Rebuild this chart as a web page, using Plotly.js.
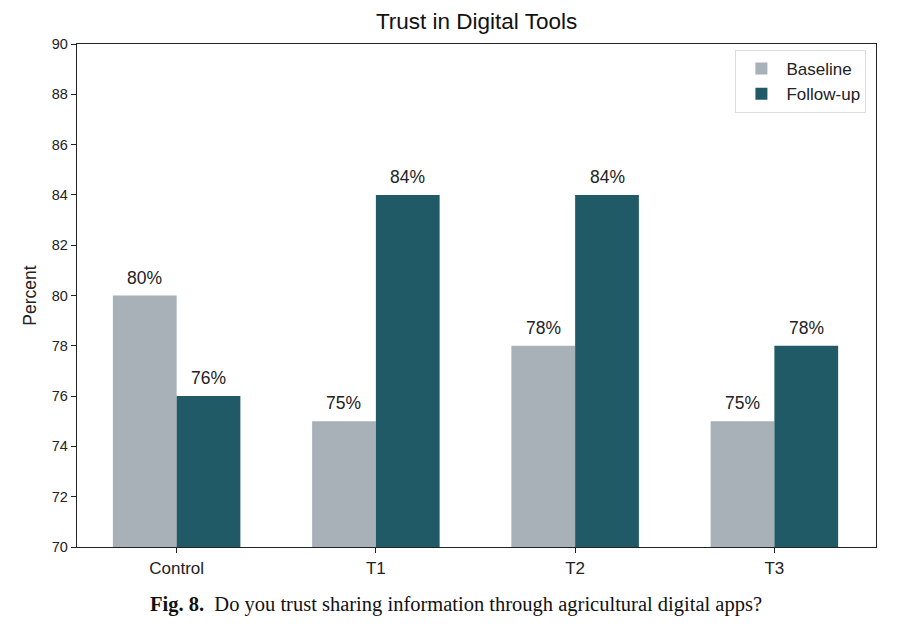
<!DOCTYPE html>
<html>
<head>
<meta charset="utf-8">
<script src="https://cdn.plot.ly/plotly-3.0.1.min.js"></script>
<style>
  body { margin: 0; background: #fff; }
  #plot { width: 920px; height: 627px; }
</style>
</head>
<body>
<div id="plot"></div>
<script>
const groups = ['Control', 'T1', 'T2', 'T3'];
const baseline = [80, 75, 78, 75];
const followUp = [76, 84, 84, 78];
const yTicks = [70, 72, 74, 76, 78, 80, 82, 84, 86, 88, 90];

const font = 'Liberation Sans, Arial, sans-serif';

function barTrace(name, values, color) {
  return {
    type: 'bar',
    name: name,
    x: groups,
    y: values.map(function (v) { return v - 70; }),
    base: 70,
    marker: { color: color, line: { width: 0 } },
    hoverinfo: 'skip'
  };
}

const traces = [
  barTrace('Baseline', baseline, '#a8b0b8'),
  barTrace('Follow-up', followUp, '#215a67')
];

// value labels above each bar
let labels = [];
function addLabels(values, shift) {
  for (let i = 0; i < values.length; i++) {
    labels.push({
      x: groups[i], y: values[i], xref: 'x', yref: 'y',
      text: values[i] + '%', showarrow: false,
      xanchor: 'center', yanchor: 'bottom',
      xshift: shift, yshift: 6,
      font: { family: font, size: 17.5, color: '#222' }
    });
  }
}
addLabels(baseline, -32);
addLabels(followUp, 32);

labels.push({
  xref: 'paper', yref: 'paper', x: 0.474, y: -0.088,
  xanchor: 'center', yanchor: 'top', showarrow: false,
  text: '<b>Fig. 8.</b>  Do you trust sharing information through agricultural digital apps?',
  font: { family: 'Liberation Serif, Times New Roman, serif', size: 20.5, color: '#111' }
});

const layout = {
  width: 920,
  height: 627,
  margin: { l: 77, r: 44, t: 44, b: 80 },
  paper_bgcolor: '#fff',
  plot_bgcolor: '#fff',
  font: { family: font, size: 15, color: '#222' },
  barmode: 'group',
  bargap: 0.36,
  bargroupgap: 0,
  title: {
    text: 'Trust in Digital Tools',
    font: { family: font, size: 22.5, color: '#111' },
    x: 0.518, xanchor: 'center',
    y: 0.966, yanchor: 'middle'
  },
  xaxis: {
    type: 'category',
    range: [-0.5, 3.51],
    showline: true, linecolor: '#222', linewidth: 1.3, mirror: true,
    ticks: 'outside', ticklen: 5, tickcolor: '#222',
    tickfont: { family: font, size: 17, color: '#222' },
    showgrid: false, zeroline: false
  },
  yaxis: {
    range: [70, 90],
    tickvals: yTicks,
    showline: true, linecolor: '#222', linewidth: 1.3, mirror: true,
    ticks: 'outside', ticklen: 5, tickcolor: '#222',
    tickfont: { family: font, size: 14.5, color: '#222' },
    showgrid: false, zeroline: false,
    title: { text: 'Percent', font: { family: font, size: 17.5, color: '#222' }, standoff: 10 }
  },
  legend: {
    x: 0.988, xanchor: 'right', y: 0.988, yanchor: 'top',
    bgcolor: '#fff', bordercolor: '#ddd', borderwidth: 1,
    font: { family: font, size: 17, color: '#222' },
    itemwidth: 40,
    traceorder: 'normal'
  },
  showlegend: true,
  annotations: labels
};

Plotly.newPlot('plot', traces, layout, { displayModeBar: false, staticPlot: true });
</script>
</body>
</html>
